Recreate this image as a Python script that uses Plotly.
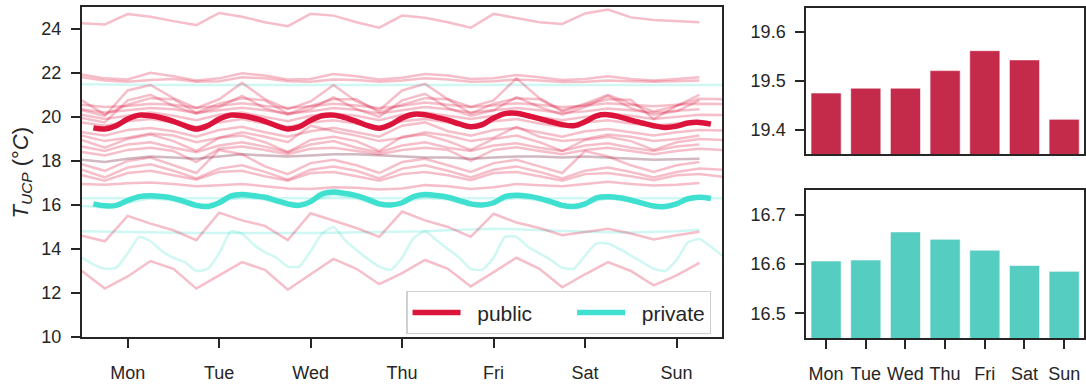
import plotly.graph_objects as go

# ---------------- data ----------------
DAYS = ["Mon", "Tue", "Wed", "Thu", "Fri", "Sat", "Sun"]
DAY_TICK_HOURS = [12, 36, 60, 84, 108, 132, 156]
HOURS6 = list(range(0, 169, 6))
HOURS3 = list(range(0, 169, 3))
MEAN_HOURS = list(range(3, 166, 3))
Y_TICKS = [10, 12, 14, 16, 18, 20, 22, 24]

PUBLIC_MEAN = [19.5, 19.45, 19.6, 19.9, 20.08, 20.05, 19.95,
               19.8, 19.6, 19.45, 19.6, 19.9, 20.08, 20.05, 19.95,
               19.8, 19.6, 19.45, 19.55, 19.85, 20.05, 20.08, 19.97,
               19.8, 19.6, 19.48, 19.65, 19.95, 20.12, 20.1, 19.98,
               19.85, 19.68, 19.55, 19.65, 19.95, 20.15, 20.17, 20.05,
               19.92, 19.78, 19.65, 19.6, 19.78, 20.05, 20.1, 20.0,
               19.85, 19.72, 19.6, 19.52, 19.58, 19.72, 19.75, 19.67]

PRIVATE_MEAN = [16.05, 15.96, 15.98, 16.2, 16.38, 16.42, 16.38,
                16.3, 16.15, 15.98, 15.93, 16.1, 16.4, 16.47, 16.42,
                16.35, 16.2, 16.05, 15.98, 16.15, 16.5, 16.59, 16.52,
                16.42, 16.25, 16.05, 16.0, 16.1, 16.38, 16.47, 16.43,
                16.35, 16.2, 16.05, 16.0, 16.1, 16.38, 16.44, 16.4,
                16.3, 16.15, 15.98, 15.93, 16.05, 16.32, 16.37, 16.33,
                16.22, 16.08, 15.95, 15.93, 16.05, 16.28, 16.35, 16.29]

# individual public buildings (6-hourly)
PUB_TOP = [24.25, 24.2, 24.67, 24.55, 24.35, 24.17, 24.72, 24.55, 24.3, 24.12, 24.68, 24.6,
           24.3, 24.05, 24.6, 24.5, 24.3, 24.05, 24.68, 24.5, 24.3, 24.22, 24.7, 24.88,
           24.52, 24.4, 24.35, 24.3]
PUB_A = [21.93, 21.75, 21.7, 22.0, 21.85, 21.65, 21.75, 21.98, 21.88, 21.7, 21.72, 21.95,
         21.85, 21.7, 21.78, 21.95, 21.88, 21.72, 21.75, 21.9, 21.8, 21.68, 21.72, 21.85,
         21.72, 21.65, 21.72, 21.8]
PUB_B = [21.8, 21.65, 21.6, 21.68, 21.72, 21.6, 21.62, 21.8, 21.75, 21.62, 21.6, 21.7,
         21.68, 21.6, 21.65, 21.75, 21.7, 21.6, 21.62, 21.7, 21.65, 21.58, 21.6, 21.65,
         21.62, 21.6, 21.62, 21.65]
PUB_SPIKE1 = [20.3, 20.05, 21.2, 21.45, 20.85, 20.4, 20.8, 21.55, 20.8, 20.35, 20.7, 21.45,
              20.7, 20.3, 21.2, 21.5, 20.8, 20.45, 20.75, 21.75, 20.85, 20.3, 20.6, 21.0,
              20.6, 20.25, 20.5, 21.0]
PUB_SPIKE2 = [19.95, 19.75, 20.75, 21.0, 20.5, 20.15, 20.45, 20.95, 20.4, 20.1, 20.35, 20.9,
              20.35, 20.0, 20.75, 21.05, 20.4, 20.05, 20.3, 20.9, 20.45, 20.1, 20.45, 20.95,
              20.4, 20.1, 20.25, 20.75]
PUB_DIP = [20.75, 20.1, 20.55, 20.85, 20.8, 20.2, 20.6, 20.85, 20.75, 20.15, 20.5, 20.8,
           20.8, 20.2, 20.55, 20.85, 20.8, 20.15, 20.6, 20.85, 20.8, 20.25, 20.55, 20.8,
           20.78, 19.9, 20.5, 20.82, 20.8]
PUB_C = [20.55, 20.45, 20.5, 20.6, 20.55, 20.42, 20.5, 20.62, 20.5, 20.4, 20.48, 20.6,
         20.52, 20.4, 20.5, 20.65, 20.55, 20.45, 20.52, 20.62, 20.55, 20.45, 20.5, 20.62,
         20.55, 20.48, 20.55, 20.6, 20.58]
PUB_D = [20.35, 20.2, 20.3, 20.4, 20.35, 20.18, 20.3, 20.42, 20.3, 20.15, 20.25, 20.4,
         20.32, 20.15, 20.3, 20.45, 20.35, 20.2, 20.3, 20.4, 20.3, 20.18, 20.25, 20.38,
         20.3, 20.2, 20.28, 20.35]
PUB_E = [20.1, 19.9, 20.05, 20.2, 20.05, 19.85, 20.1, 20.2, 20.0, 19.8, 20.05, 20.15,
         20.05, 19.85, 20.1, 20.2, 20.05, 19.9, 20.05, 20.2, 20.0, 19.85, 20.0, 20.15,
         20.05, 19.9, 20.0, 20.1, 20.08]
PUB_F = [19.75, 19.6, 19.8, 19.9, 19.75, 19.55, 19.75, 19.9, 19.7, 19.55, 19.75, 19.85,
         19.7, 19.55, 19.8, 19.9, 19.75, 19.6, 19.8, 19.9, 19.7, 19.55, 19.75, 19.85,
         19.7, 19.6, 19.7, 19.8]
PUB_G = [19.3, 19.15, 19.4, 19.5, 19.35, 19.1, 19.4, 19.55, 19.3, 19.1, 19.35, 19.5,
         19.3, 19.1, 19.6, 19.75, 19.35, 19.15, 19.4, 19.5, 19.3, 19.1, 19.35, 19.45,
         19.3, 19.15, 19.3, 19.4, 19.38]
PUB_H = [19.15, 18.9, 19.05, 19.25, 19.15, 18.85, 19.05, 19.3, 19.1, 18.85, 19.6, 19.35,
         19.15, 18.9, 19.05, 19.3, 19.15, 18.9, 19.05, 19.55, 19.1, 18.9, 19.0, 19.2,
         19.1, 18.9, 19.0, 19.15]
PUB_I = [18.95, 18.6, 19.0, 19.2, 18.9, 18.45, 19.05, 19.15, 18.85, 18.4, 18.95, 19.1,
         18.9, 18.45, 19.1, 19.2, 18.9, 18.5, 19.0, 19.15, 18.85, 18.45, 18.95, 19.1,
         18.9, 18.5, 18.85, 19.0, 18.95]
PUB_J = [18.65, 18.45, 18.75, 18.85, 18.6, 18.4, 18.7, 18.85, 18.65, 18.4, 18.75, 18.9,
         18.6, 18.4, 18.7, 18.85, 18.6, 18.45, 18.7, 18.8, 18.6, 18.45, 18.7, 18.8,
         18.6, 18.45, 18.65, 18.75]
PUB_K = [18.4, 18.25, 18.5, 18.6, 18.45, 17.95, 18.55, 18.65, 18.5, 18.3, 18.55, 18.6,
         18.45, 18.3, 18.5, 18.6, 18.5, 18.0, 18.5, 18.62, 18.45, 18.3, 18.5, 18.6,
         18.45, 18.3, 18.45, 18.55, 18.5]
PUB_L = [18.05, 17.95, 18.1, 18.2, 18.15, 18.1, 18.2, 18.3, 18.25, 18.2, 18.25, 18.3,
         18.3, 18.25, 18.2, 18.15, 18.15, 18.1, 18.15, 18.2, 18.2, 18.15, 18.2, 18.15,
         18.1, 18.05, 18.08, 18.1]
PUB_M = [17.85, 17.55, 18.0, 18.15, 17.8, 17.45, 18.5, 18.3, 17.75, 17.4, 17.9, 18.05,
         17.8, 17.45, 17.95, 18.1, 17.8, 17.5, 17.9, 18.05, 17.75, 17.45, 18.45, 18.2,
         17.8, 17.5, 17.8, 17.95]
PUB_N = [17.6, 17.25, 17.7, 17.85, 17.55, 17.2, 17.65, 17.8, 17.5, 17.15, 17.6, 17.75,
         17.55, 17.2, 17.65, 17.8, 17.55, 17.25, 17.6, 17.75, 17.5, 17.2, 17.55, 17.7,
         17.5, 17.25, 17.5, 17.65, 17.6]
PUB_O = [17.35, 17.1, 17.45, 17.55, 17.35, 17.15, 17.5, 17.55, 17.3, 17.1, 17.45, 17.5,
         17.3, 17.1, 17.4, 17.5, 17.35, 17.12, 17.45, 17.5, 17.3, 17.1, 17.4, 17.45,
         17.3, 17.12, 17.35, 17.4, 17.28]
PUB_P = [16.95, 16.92, 16.98, 17.02, 16.95, 16.85, 16.9, 16.95, 16.85, 16.75, 16.72, 16.8,
         16.78, 16.7, 16.75, 16.9, 16.85, 16.72, 16.8, 16.95, 16.9, 16.85, 16.95, 17.05,
         16.95, 16.88, 16.92, 17.0]
PUB_ZIG1 = [14.6, 14.35, 15.5, 15.15, 14.85, 14.4, 15.65, 15.3, 15.05, 14.4, 15.62, 15.3,
            14.95, 14.55, 15.7, 15.3, 15.0, 14.55, 15.6, 15.2, 14.95, 14.62, 14.77, 14.92,
            14.7, 14.43, 14.62, 14.78]
PUB_ZIG2 = [13.0, 12.2, 12.75, 13.45, 13.1, 12.2, 12.8, 13.4, 13.05, 12.15, 12.85, 13.55,
            13.1, 12.4, 12.9, 13.5, 13.1, 12.3, 12.95, 13.6, 13.1, 12.26, 12.85, 13.4,
            13.0, 12.35, 12.8, 13.37]

# individual private buildings
PRI_A = [21.48, 21.46, 21.45, 21.45, 21.45, 21.45, 21.45, 21.45, 21.45, 21.45, 21.45, 21.45,
         21.45, 21.45, 21.45, 21.45, 21.45, 21.45, 21.45, 21.45, 21.45, 21.45, 21.45, 21.45,
         21.45, 21.45, 21.45, 21.45, 21.45]
PRI_B = [18.05, 17.95, 18.1, 18.2, 18.15, 18.1, 18.2, 18.3, 18.25, 18.2, 18.25, 18.3,
         18.3, 18.25, 18.2, 18.15, 18.15, 18.1, 18.15, 18.2, 18.2, 18.15, 18.2, 18.15,
         18.1, 18.05, 18.08, 18.1]
PRI_C = [16.3, 16.3, 16.28, 16.3, 16.3, 16.28, 16.3, 16.3, 16.3, 16.28, 16.3, 16.3,
         16.3, 16.28, 16.3, 16.3, 16.3, 16.28, 16.3, 16.3, 16.3, 16.28, 16.3, 16.3,
         16.3, 16.28, 16.3, 16.3, 16.3]
PRI_D = [15.95, 15.9, 16.1, 16.3, 16.2, 15.9, 16.15, 16.35, 16.25, 15.95, 16.2, 16.45,
         16.3, 15.95, 16.1, 16.35, 16.25, 15.95, 16.1, 16.35, 16.2, 15.9, 16.05, 16.3,
         16.15, 15.9, 16.1, 16.3]
PRI_E = [14.8, 14.78, 14.75, 14.74, 14.72, 14.72, 14.72, 14.72, 14.7, 14.7, 14.72, 14.74,
         14.75, 14.76, 14.78, 14.8, 14.85, 14.9, 14.92, 14.9, 14.85, 14.8, 14.78, 14.76,
         14.75, 14.78, 14.8, 14.87]
PRI_F = [13.6, 13.3, 13.1, 13.15, 13.8, 14.55, 14.35, 13.9,
         13.6, 13.4, 13.0, 13.1, 13.8, 14.8, 14.7, 14.2,
         13.85, 13.6, 13.2, 13.2, 13.9, 14.7, 15.0, 14.4,
         13.95, 13.55, 13.2, 13.05, 13.6, 14.5, 14.8, 14.4,
         14.0, 13.6, 13.1, 13.05, 13.6, 14.55, 14.55, 14.1,
         13.8, 13.5, 13.15, 13.1, 13.7, 14.25, 14.25, 14.0,
         13.7, 13.4, 13.1, 13.0, 13.5, 14.3, 14.45, 14.1, 13.7]

PUBLIC_LINES = [PUB_TOP, PUB_A, PUB_B, PUB_SPIKE1, PUB_SPIKE2, PUB_DIP, PUB_C, PUB_D,
                PUB_E, PUB_F, PUB_G, PUB_H, PUB_I, PUB_J, PUB_K, PUB_L, PUB_M, PUB_N,
                PUB_O, PUB_P, PUB_ZIG1, PUB_ZIG2]
PRIVATE_LINES_6H = [PRI_A, PRI_B, PRI_C, PRI_D, PRI_E]

PUBLIC_DAILY = [19.475, 19.485, 19.485, 19.521, 19.562, 19.543, 19.421]
PRIVATE_DAILY = [16.606, 16.608, 16.665, 16.650, 16.628, 16.597, 16.585]

# ---------------- styling ----------------
RED = "#DC143C"
CYAN = "#40E0D0"
RED_THIN = "rgba(220,20,60,0.28)"
CYAN_THIN = "rgba(64,224,208,0.25)"
BAR_RED = "#C42B4A"
BAR_CYAN = "#56CDC1"
FONT = "Liberation Sans, Arial, sans-serif"
TXT = "#262626"
W, H = 1086, 385
NB = "\u00a0"

fig = go.Figure()

for vals in PRIVATE_LINES_6H:
    fig.add_trace(go.Scatter(x=HOURS6[:len(vals)], y=vals, mode="lines",
                             line=dict(color=CYAN_THIN, width=2.5), showlegend=False,
                             hoverinfo="skip", xaxis="x", yaxis="y"))
fig.add_trace(go.Scatter(x=HOURS3[:len(PRI_F)], y=PRI_F, mode="lines",
                         line=dict(color=CYAN_THIN, width=2.5, shape="spline", smoothing=0.5),
                         showlegend=False, hoverinfo="skip", xaxis="x", yaxis="y"))
for vals in PUBLIC_LINES:
    fig.add_trace(go.Scatter(x=HOURS6[:len(vals)], y=vals, mode="lines",
                             line=dict(color=RED_THIN, width=2.5), showlegend=False,
                             hoverinfo="skip", xaxis="x", yaxis="y"))

fig.add_trace(go.Scatter(x=MEAN_HOURS, y=PUBLIC_MEAN, mode="lines",
                         name=NB * 2 + "public" + NB * 6,
                         line=dict(color=RED, width=5.5, shape="spline"),
                         xaxis="x", yaxis="y"))
fig.add_trace(go.Scatter(x=MEAN_HOURS, y=PRIVATE_MEAN, mode="lines",
                         name=NB * 2 + "private",
                         line=dict(color=CYAN, width=5.5, shape="spline"),
                         xaxis="x", yaxis="y"))

fig.add_trace(go.Bar(x=DAYS, y=PUBLIC_DAILY, marker=dict(color=BAR_RED,
                     line=dict(color="rgba(255,255,255,0.6)", width=1)),
                     width=0.76, showlegend=False, xaxis="x2", yaxis="y2"))
fig.add_trace(go.Bar(x=DAYS, y=PRIVATE_DAILY, marker=dict(color=BAR_CYAN,
                     line=dict(color="rgba(255,255,255,0.6)", width=1)),
                     width=0.76, showlegend=False, xaxis="x3", yaxis="y3"))

axis_common = dict(showline=True, linecolor=TXT, linewidth=2, mirror=True,
                   ticks="outside", ticklen=9, tickwidth=1.6, tickcolor=TXT,
                   showgrid=False, zeroline=False,
                   tickfont=dict(family=FONT, size=18, color=TXT))

def px_x(px):
    return px / W

def px_y(py):
    return (H - py) / H

fig.update_layout(
    width=W, height=H,
    margin=dict(l=0, r=0, t=0, b=0),
    paper_bgcolor="white", plot_bgcolor="white",
    font=dict(family=FONT, color=TXT),
    xaxis=dict(axis_common, domain=[px_x(82), px_x(723)], range=[0, 168],
               tickvals=DAY_TICK_HOURS, ticktext=DAYS, anchor="y", ticklabelstandoff=9),
    yaxis=dict(axis_common, domain=[px_y(346), px_y(7)], range=[10, 25],
               tickvals=Y_TICKS, ticktext=[str(v) for v in Y_TICKS], anchor="x",
               ticklabelstandoff=6),
    xaxis2=dict(axis_common, domain=[px_x(807), px_x(1085)], range=[-0.5, 6.5],
                anchor="y2", showticklabels=False, ticks=""),
    yaxis2=dict(axis_common, domain=[px_y(158), px_y(8)], range=[19.35, 19.65],
                tickvals=[19.4, 19.5, 19.6], ticktext=["19.4", "19.5", "19.6"],
                anchor="x2", ticklabelstandoff=6),
    xaxis3=dict(axis_common, domain=[px_x(807), px_x(1085)], range=[-0.5, 6.5],
                anchor="y3", ticklabelstandoff=9),
    yaxis3=dict(axis_common, domain=[px_y(347), px_y(195)], range=[16.45, 16.75],
                tickvals=[16.5, 16.6, 16.7], ticktext=["16.5", "16.6", "16.7"],
                anchor="x3", ticklabelstandoff=6),
    legend=dict(orientation="h", x=px_x(712), y=px_y(343), xanchor="right",
                yanchor="bottom", bordercolor="#d0d0d0", borderwidth=1.2,
                bgcolor="rgba(255,255,255,0.85)", itemwidth=48,
                font=dict(family=FONT, size=21, color=TXT)),
    annotations=[dict(text="<i>T</i><sub><i>UCP</i></sub> (°<i>C</i>)", x=px_x(22),
                      y=px_y(177), xref="paper", yref="paper", showarrow=False,
                      xanchor="center", yanchor="middle",
                      textangle=-90, font=dict(family=FONT, size=22, color=TXT))],
    bargap=0.2,
)

fig.write_html("out.html")
